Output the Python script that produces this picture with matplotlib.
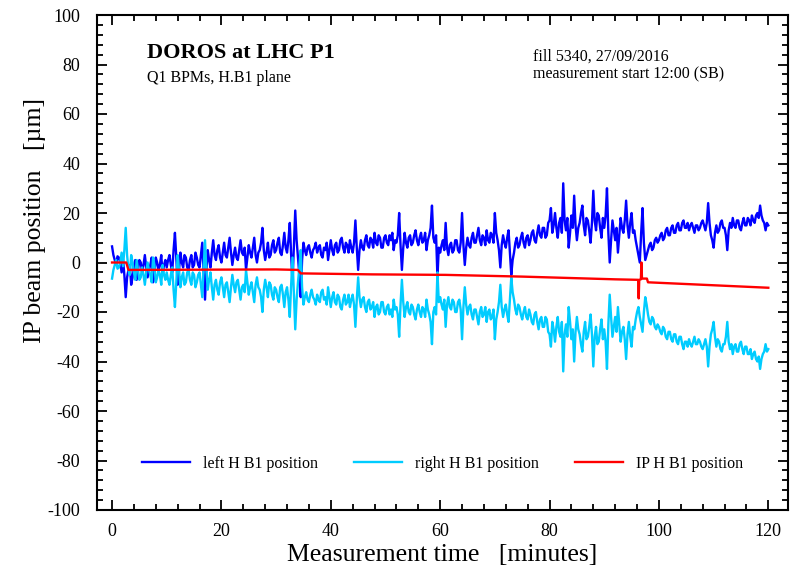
import matplotlib
matplotlib.use('Agg')
import matplotlib.pyplot as plt
from matplotlib.ticker import MultipleLocator

# time axis, minutes (0.25 min sampling)
t = [i * 0.25 for i in range(481)]

left = [6.5, 3, 1, -1, 2.5, 2, 0, -4, 1.5, -5, -14, -6, -3, -1, -9, -6, -2, 1, -7, -3,
        1, 0, -4, -1, 3, -2, -6, -3, -1, 2, -8, -5, 2, 0, -3, -1, 3, -5, -1, 1,
        -2, 1, 3, -1, -4, 5, 12, 2, -9, -3, 4, 0, -2, 3, 2, -2, -3, 1, 3, -2,
        -1, 4, 2, -1, -2, 3, 8, -4, -15, -3, 5, 1, -2, 4, 9, 3, 1, 5, 7, 2,
        0, 4, 8, 3, 2, 6, 10, 4, -1, 3, 6, 2, 1, 5, 9, 4, 3, 6, -3, 2,
        7, 4, 2, 6, 10, 3, 0, 4, 5, 8, 14, 5, 1, 4, 8, 2, 3, 7, 9, 4,
        5, 8, 10, 4, 3, 7, 12, 6, 4, 9, 16, 3, -8, 6, 21, 9, 2, -5, -14, 1,
        8, 5, 3, 6, 7, 4, 2, 5, 6, 8, 4, 6, 7, 3, 2, 6, 5, 8, 1, 5,
        9, 5, 3, 7, 8, 4, 5, 9, 10, 6, 4, 8, 7, 4, 9, 6, 4, 8, 17, 6,
        -3, 5, 9, 6, 5, 9, 11, 7, 6, 10, 9, 6, 12, 8, 7, 11, 10, 6, 6, 10,
        11, 8, 7, 11, 9, 12, 5, 9, 8, 11, 20, 7, -3, 6, 12, 8, 6, 10, 11, 7,
        8, 11, 13, 9, 7, 10, 12, 8, 9, 12, 5, 9, 11, 14, 23, 10, 8, 11, -6, 6,
        4, 7, 9, 5, 16, 6, 3, 7, 8, 4, 5, 9, 9, 5, 4, 8, 20, 7, -1, 6,
        10, 7, 6, 10, 12, 8, 8, 11, 14, 9, 7, 11, 10, 7, 13, 9, 8, 12, 11, 8,
        20, 12, 9, 5, -2, 7, 11, 8, 6, 10, 13, 4, -5, 1, 4, 8, 10, 6, 7, 10,
        12, 8, 6, 10, 11, 7, 9, 12, 13, 9, 8, 12, 15, 11, 10, 14, 14, 10, 11, 16,
        17, 22, 12, 15, 20, 14, 10, 16, 18, 12, 32, 17, 13, 18, 6, 12, 19, 14, 27, 15,
        9, 14, 16, 20, 23, 15, 11, 18, 17, 13, 8, 16, 29, 17, 13, 20, 19, 14, 10, 18,
        14, 19, 30, 12, 0, 9, 17, 13, 9, 14, 4, 11, 18, 14, 12, 17, 25, 15, 10, 16,
        20, 12, 13, 9, 6, 3, 0, 12, 22, 8, 1, 3, 5, 7, 8, 5, 6, 9, 10, 8,
        9, 11, 12, 9, 10, 13, 14, 11, 11, 14, 15, 12, 12, 15, 16, 13, 13, 16, 17, 14,
        14, 16, 13, 15, 16, 14, 12, 15, 15, 13, 14, 16, 17, 15, 13, 16, 24, 16, 11, 9,
        6, 12, 15, 12, 13, 16, 17, 14, 14, 11, 5, 13, 16, 14, 18, 15, 14, 17, 17, 14,
        13, 16, 18, 15, 15, 18, 17, 15, 19, 17, 16, 19, 20, 18, 23, 19, 17, 16, 13, 16,
        15]

# right H B1 position [um]
right = [-6.5, -3, -1, 1, -2.5, -2, 0, 4, -1.5, 5, 14, 3, -3, -5, 3, 0, -4, -7, 1, -3,
         -7, -6, -2, -5, -9, -4, 0, -3, -5, -8, 2, -1, -8, -6, -3, -5, -9, -1, -5, -7,
         -4, -7, -9, -5, -2, -11, -18, -8, 3, -3, -10, -6, -4, -9, -8, -4, -3, -7, -9, -4,
         -5, -10, -8, -5, -4, -9, -14, -2, 9, -3, -11, -7, -4, -10, -15, -9, -7, -11, -13, -8,
         -6, -10, -14, -9, -8, -12, -16, -10, -5, -9, -12, -8, -7, -11, -15, -10, -9, -12, -3, -8,
         -13, -10, -8, -12, -16, -9, -6, -10, -11, -14, -20, -11, -7, -10, -14, -8, -9, -13, -15, -10,
         -11, -14, -16, -10, -9, -13, -18, -12, -10, -15, -22, -9, 2, -12, -27, -15, -8, -2, 5, -10,
         -17, -14, -12, -15, -16, -13, -11, -14, -15, -17, -13, -15, -16, -12, -11, -15, -14, -17, -10, -14,
         -18, -14, -12, -16, -17, -13, -14, -18, -19, -15, -13, -17, -16, -13, -18, -15, -13, -17, -26, -15,
         -6, -14, -18, -15, -14, -18, -20, -16, -15, -19, -18, -16, -22, -18, -17, -21, -20, -16, -16, -20,
         -21, -18, -17, -21, -19, -22, -15, -19, -18, -21, -30, -17, -7, -16, -22, -18, -16, -20, -21, -17,
         -18, -21, -23, -19, -17, -20, -22, -18, -19, -22, -15, -19, -21, -24, -33, -20, -18, -21, -4, -16,
         -14, -17, -19, -15, -26, -17, -14, -18, -19, -15, -16, -20, -20, -16, -15, -19, -31, -18, -10, -17,
         -21, -18, -17, -21, -23, -19, -19, -22, -25, -20, -18, -22, -21, -18, -24, -20, -19, -23, -22, -19,
         -31, -23, -20, -16, -9, -18, -22, -19, -17, -21, -24, -15, -6, -12, -15, -19, -21, -17, -18, -21,
         -23, -20, -18, -22, -23, -19, -21, -24, -25, -21, -20, -24, -27, -23, -22, -26, -26, -22, -23, -28,
         -29, -34, -24, -27, -32, -26, -22, -28, -30, -24, -44, -29, -25, -30, -18, -24, -31, -27, -40, -28,
         -22, -27, -29, -33, -36, -28, -24, -31, -30, -26, -21, -29, -42, -30, -26, -33, -32, -27, -23, -31,
         -27, -32, -43, -25, -13, -22, -30, -26, -22, -28, -18, -25, -32, -28, -26, -31, -39, -29, -24, -30,
         -34, -26, -27, -23, -20, -18, -22, -25, -28, -20, -14, -17, -21, -24, -25, -22, -23, -26, -27, -25,
         -26, -28, -29, -26, -27, -30, -31, -28, -28, -31, -32, -29, -29, -32, -33, -30, -30, -33, -35, -32,
         -32, -34, -31, -33, -34, -32, -30, -33, -33, -31, -32, -34, -35, -33, -31, -34, -42, -34, -29, -27,
         -24, -30, -34, -31, -32, -35, -36, -33, -33, -30, -24, -32, -35, -33, -37, -34, -33, -36, -36, -33,
         -32, -35, -37, -34, -34, -37, -37, -35, -39, -37, -36, -39, -40, -38, -43, -39, -37, -36, -33, -36,
         -35]

# IP H B1 position [um]
ip_t = [0, 2.6, 3, 30, 34, 34.5, 47.5, 61, 75, 92, 96.2, 96.3, 96.4, 96.7, 96.8, 96.9, 97.8, 98, 120]
ip_v = [0, 0, -3, -2.8, -3, -4.4, -4.8, -5, -5.7, -6.8, -7, -14.5, -7, -6.8, 0, -6.5, -6.5, -8, -10.2]

plt.rcParams['font.family'] = ['Liberation Serif', 'DejaVu Serif']
plt.rcParams['axes.unicode_minus'] = False

fig = plt.figure(figsize=(7.9, 5.75), dpi=100)
ax = fig.add_axes([97/790, 65/575, 691/790, 495/575])

ax.plot(t, left, color='#0000ff', lw=1.7, label='left H B1 position')
ax.plot(t, right, color='#00ccff', lw=1.7, label='right H B1 position')
ax.plot(ip_t, ip_v, color='#ff0000', lw=1.7, label='IP H B1 position')

ax.set_xlim(-2.75, 123.6)
ax.set_ylim(-100, 100)
ax.xaxis.set_major_locator(MultipleLocator(20))
ax.xaxis.set_minor_locator(MultipleLocator(4))
ax.yaxis.set_major_locator(MultipleLocator(20))
ax.yaxis.set_minor_locator(MultipleLocator(4))
ax.tick_params(which='both', direction='in', top=True, right=True, width=1.3, labelsize=13)
ax.tick_params(which='major', length=7)
ax.tick_params(which='minor', length=4)
ax.tick_params(axis='x', pad=9)
ax.tick_params(axis='y', pad=12)
for s in ax.spines.values():
    s.set_linewidth(1.5)

ax.set_xlabel('Measurement time   [minutes]', fontsize=18.5, labelpad=3)
ax.set_ylabel('IP beam position   [\u00b5m]', fontsize=18.5)
ax.yaxis.set_label_coords(-0.074, 0.584)

ax.text(50/691, (510-53)/495, 'DOROS at LHC P1', transform=ax.transAxes,
        fontsize=16, fontweight='bold', va='center')
ax.text(50/691, (510-78)/495, 'Q1 BPMs, H.B1 plane', transform=ax.transAxes,
        fontsize=11.5, va='center')
ax.text(436/691, (510-57)/495, 'fill 5340, 27/09/2016', transform=ax.transAxes,
        fontsize=11.5, va='center')
ax.text(436/691, (510-74)/495, 'measurement start 12:00 (SB)', transform=ax.transAxes,
        fontsize=11.5, va='center')

ax.legend(loc='center', bbox_to_anchor=(0.5, 0.093), ncol=3, frameon=False,
          fontsize=11.5, handlelength=3.0, handletextpad=0.8, columnspacing=2.26)

fig.savefig('out.png', dpi=100)
